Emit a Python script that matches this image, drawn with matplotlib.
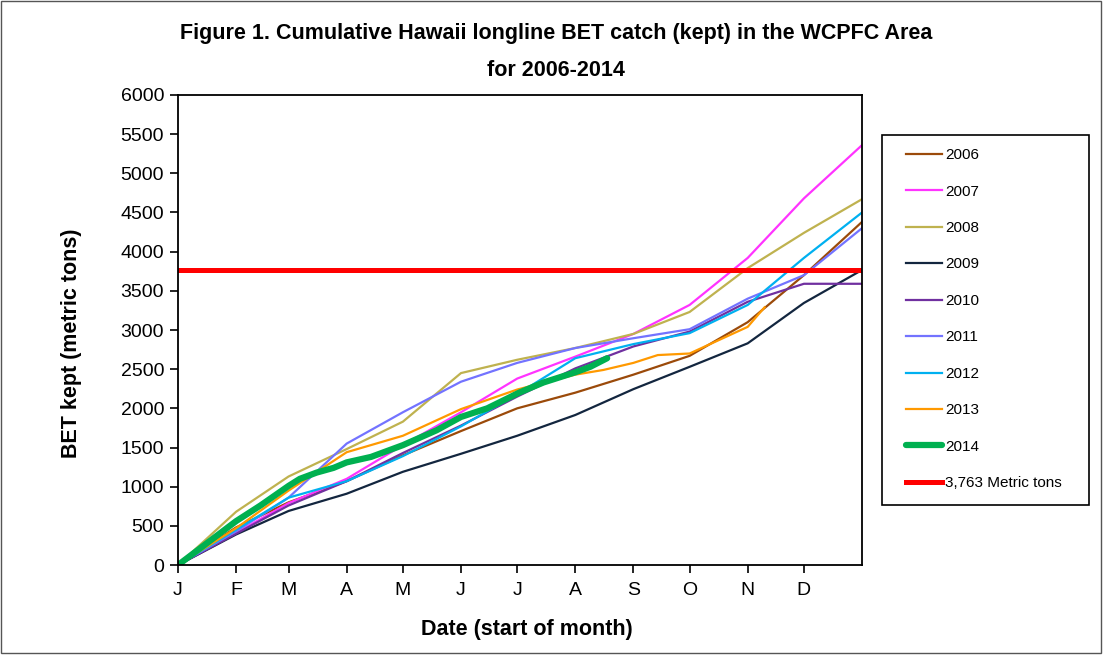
import numpy as np
import matplotlib
matplotlib.use('Agg')
import matplotlib.pyplot as plt
from matplotlib.patches import Rectangle

plt.rcParams['font.family'] = ['Liberation Sans', 'DejaVu Sans']

# Días del año al inicio de cada mes (más el fin de año)
month_days = [0, 31, 59, 90, 120, 151, 181, 212, 243, 273, 304, 334, 365]
month_labels = ['J', 'F', 'M', 'A', 'M', 'J', 'J', 'A', 'S', 'O', 'N', 'D']

# Captura acumulada (toneladas métricas) por año
bet_2006 = [0, 480, 800, 1070, 1400, 1710, 2000, 2200, 2430, 2670, 3100, 3700, 4380]
bet_2007 = [0, 410, 790, 1100, 1530, 1950, 2380, 2660, 2950, 3320, 3920, 4680, 5360]
bet_2008 = [0, 680, 1130, 1480, 1830, 2450, 2620, 2770, 2950, 3230, 3790, 4240, 4670]
bet_2009 = [0, 390, 690, 910, 1190, 1420, 1650, 1915, 2245, 2530, 2830, 3345, 3766]
bet_2010 = [0, 400, 760, 1070, 1430, 1780, 2150, 2510, 2790, 2980, 3360, 3590, 3590]
bet_2011 = [0, 430, 860, 1550, 1950, 2340, 2580, 2770, 2895, 3010, 3400, 3700, 4300]
bet_2012 = [0, 450, 860, 1070, 1390, 1770, 2180, 2640, 2820, 2960, 3320, 3920, 4500]

days_2013 = [0, 31, 59, 90, 120, 151, 181, 212, 227, 243, 256, 273, 304, 313]
bet_2013 = [0, 470, 950, 1440, 1650, 1990, 2240, 2430, 2490, 2580, 2680, 2700, 3040, 3290]

days_2014 = [0, 31, 44, 59, 65, 74, 83, 90, 103, 120, 138, 151, 165, 182, 195, 212, 220, 229]
bet_2014 = [0, 560, 760, 1010, 1100, 1180, 1240, 1310, 1380, 1530, 1720, 1890, 2000, 2200,
            2330, 2460, 2530, 2640]

limit = 3763

fig = plt.figure(figsize=(11.05, 6.56), dpi=100)
ax = fig.add_axes([0.1611, 0.1387, 0.619, 0.7165])

lw = 1.6
ax.plot(month_days, bet_2006, color='#9B4A0A', lw=lw, label='2006')
ax.plot(month_days, bet_2007, color='#FF33FF', lw=lw, label='2007')
ax.plot(month_days, bet_2008, color='#BFB24F', lw=lw, label='2008')
ax.plot(month_days, bet_2009, color='#13263F', lw=lw, label='2009')
ax.plot(month_days, bet_2010, color='#7030A0', lw=lw, label='2010')
ax.plot(month_days, bet_2011, color='#7373FF', lw=lw, label='2011')
ax.plot(month_days, bet_2012, color='#00B0F0', lw=lw, label='2012')
ax.plot(days_2013, bet_2013, color='#FF9900', lw=lw, label='2013')
ax.plot(days_2014, bet_2014, color='#00B050', lw=4.5, solid_capstyle='round', label='2014')
ax.plot([0, 365], [limit, limit], color='#FF0000', lw=3.6, label='3,763 Metric tons')

ax.set_xlim(0, 365)
ax.set_ylim(0, 6000)
ax.set_yticks(np.arange(0, 6001, 500))
ax.set_xticks(month_days[:-1])
ax.set_xticklabels(month_labels)
ax.tick_params(axis='both', direction='out', length=6, width=1.2, labelsize=14, pad=4)
ax.tick_params(axis='x', pad=6)
for s in ax.spines.values():
    s.set_linewidth(1.3)

fig.text(72 / 1105, 1 - 343 / 656, 'BET kept (metric tons)', rotation=90, ha='center', va='center',
         fontsize=15.5, fontweight='bold')
fig.text(527 / 1105, 1 - 630 / 656, 'Date (start of month)', ha='center', va='center',
         fontsize=15.5, fontweight='bold')

fig.text(0.503, 1 - 33 / 656, 'Figure 1. Cumulative Hawaii longline BET catch (kept) in the WCPFC Area',
         ha='center', va='center', fontsize=15.5, fontweight='bold')
fig.text(0.503, 1 - 70 / 656, 'for 2006-2014', ha='center', va='center', fontsize=15.5, fontweight='bold')

# Caja de la leyenda
fig.patches.append(Rectangle((882 / 1105, 1 - 505 / 656), 207 / 1105, 370 / 656,
                             transform=fig.transFigure, fill=False, edgecolor='black', lw=1.2))
leg = fig.legend(loc='upper left', bbox_to_anchor=(900 / 1105, 1 - 142 / 656), frameon=False,
                 fontsize=11, handlelength=2.35, handletextpad=0.2, labelspacing=1.47,
                 borderaxespad=0)

# Marco exterior
fig.patches.append(Rectangle((0.001, 0.005), 0.995, 0.993, transform=fig.transFigure,
                             fill=False, edgecolor='#555555', lw=1.0))

fig.savefig('out.png', dpi=100)
